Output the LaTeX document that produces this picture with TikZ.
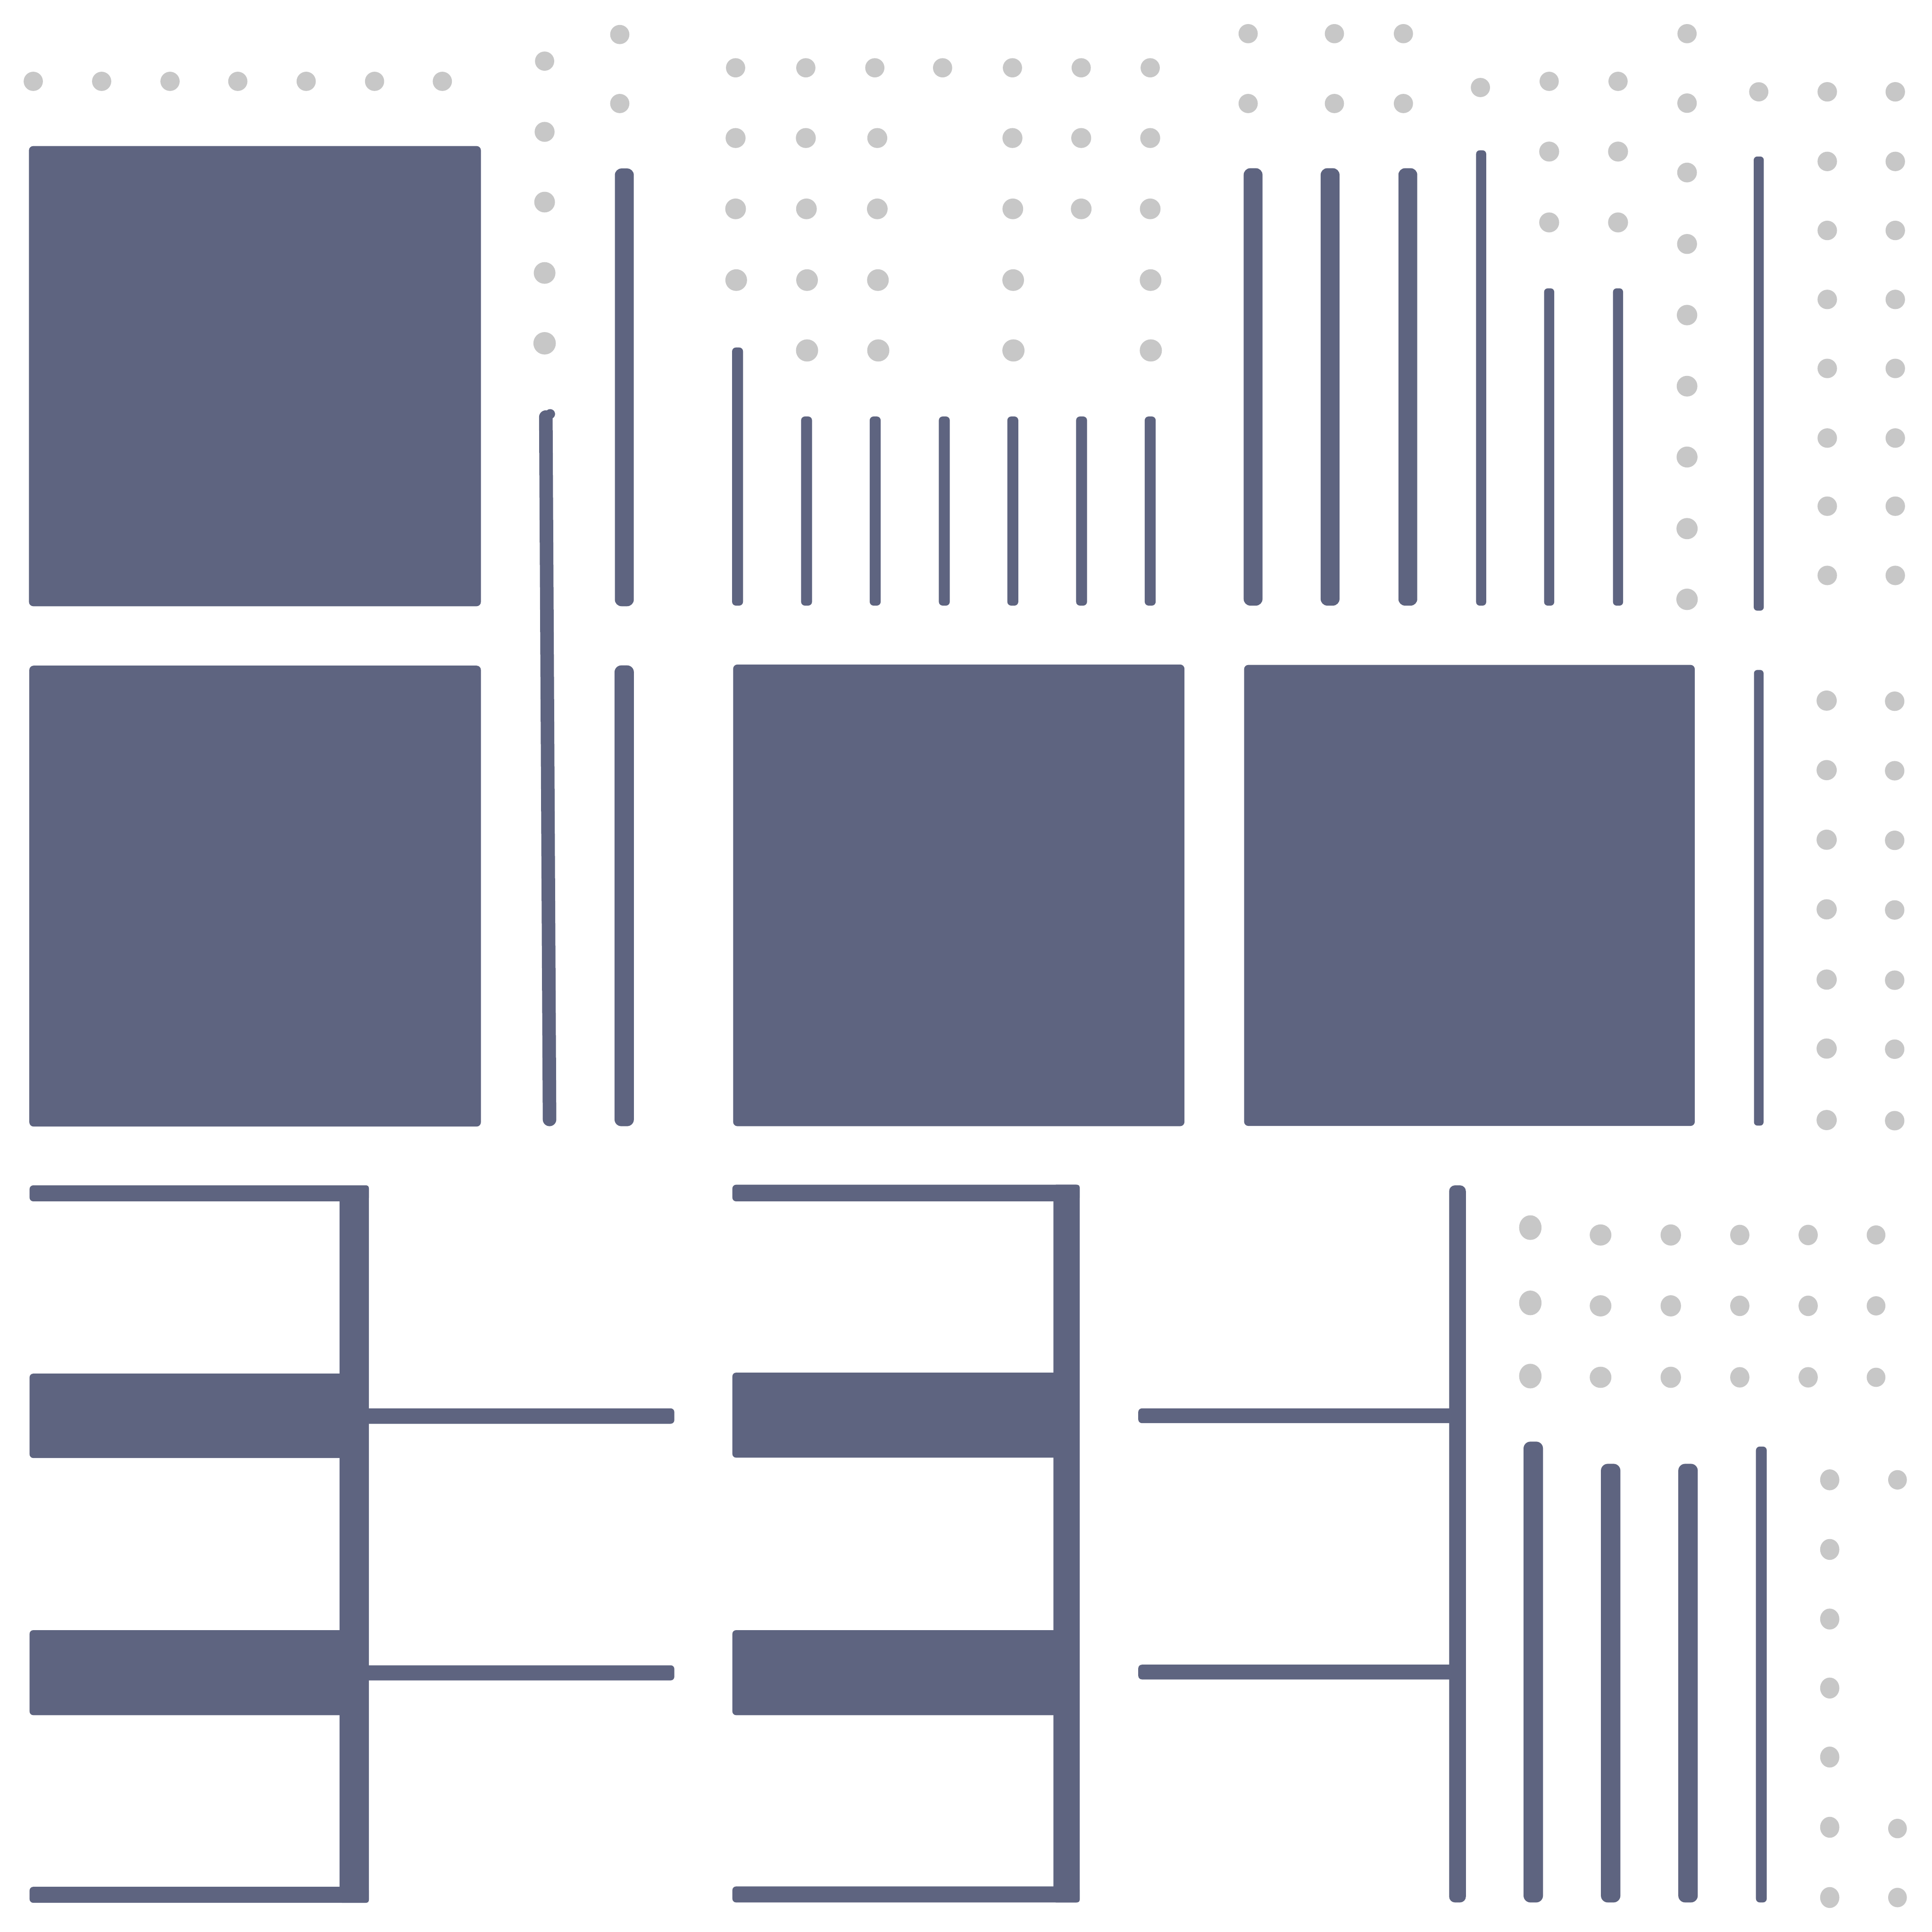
\documentclass[tikz,border=0pt]{standalone}
\definecolor{navy}{RGB}{94,100,128}
\definecolor{dotc}{RGB}{199,199,199}
\def\pxu{0.28453pt}
% vertical bar: centre x, width, top y, bottom y
\newcommand\vbarx[4]{\fill[navy, rounded corners=#2*0.1pt] ({#1-#2/2},#3) rectangle ({#1+#2/2},#4);}
% horizontal bar: left x, right x, top y, bottom y
\newcommand\hbarx[4]{\fill[navy, rounded corners=3*\pxu] (#1,#3) rectangle (#2,#4);}
\newcommand\sqbox[4]{\fill[navy, rounded corners=3.5*\pxu] (#1,#2) rectangle (#3,#4);}
\newcommand\dt[3]{\fill[dotc] (#1,#2) circle[radius=#3];}
\begin{document}
\begin{tikzpicture}[x=0.01cm,y=-0.01cm]
\useasboundingbox (0,0) rectangle (1568,1568);
\fill[white] (0,0) rectangle (1568,1568);

% ---------- top left ----------
\foreach \x in {27,82.5,138,193,248.5,304,359} {\dt{\x}{66}{7.8}}
\sqbox{23.5}{118.5}{390.3}{492}
\dt{442}{49.6}{7.8}
\dt{442}{107}{8.1}
\dt{442}{164}{8.4}
\dt{442}{221.5}{8.8}
\dt{442}{278.6}{9.1}
\dt{503}{28}{7.8}
\dt{503}{84}{7.8}
\vbarx{506.7}{15.4}{136.7}{492}

% ---------- top middle dot grid ----------
\foreach \x in {597,654,710,765,821.7,877.5,933.5} {\dt{\x}{55}{7.8}}
\foreach \x in {597,654,712,821.7,877.5,933.5} {\dt{\x}{112}{8.1}}
\foreach \x in {597,654.5,712,822,877.5,933.5} {\dt{\x}{169.5}{8.4}}
\foreach \x in {597.5,655,712.5,822.3,933.8} {\dt{\x}{227.3}{8.8}}
\foreach \x in {655,712.8,822.5,934} {\dt{\x}{284.4}{9.0}}
\vbarx{598.6}{8.9}{282}{491.5}
\foreach \x in {654.6,710.3,766.4,822,877.8,933.5} {\vbarx{\x}{8.9}{338}{491.5}}

% ---------- top right ----------
\foreach \x in {1013,1083,1139} {\dt{\x}{27.3}{7.8}\dt{\x}{84}{7.8}}
\foreach \x in {1017,1079.5,1142.6} {\vbarx{\x}{15.3}{136.5}{491.5}}
\dt{1201.5}{71}{7.8}
\vbarx{1202.1}{8.2}{122}{491.5}
\foreach \x in {1257.3,1313.2} {\dt{\x}{66}{7.8}\dt{\x}{123}{8.1}\dt{\x}{180.5}{8.1}\vbarx{\x}{8.2}{234}{491.5}}
\dt{1369.2}{27.3}{7.8}
\dt{1369.2}{83.7}{7.9}
\dt{1369.2}{140}{8.0}
\dt{1369.2}{198}{8.1}
\dt{1369.2}{255.7}{8.3}
\dt{1369.2}{313.4}{8.4}
\dt{1369.2}{370.9}{8.5}
\dt{1369.2}{429}{8.6}
\dt{1369.2}{486.4}{8.7}
\dt{1427.4}{74.5}{7.8}
\vbarx{1427.4}{8.2}{127}{495.6}
\foreach \y in {74.5,131,187,243,299,355.5,410.8,467} {\dt{1483}{\y}{7.9}\dt{1538.2}{\y}{7.9}}

% ---------- middle row ----------
\sqbox{23.8}{540.2}{390.3}{914.3}
\draw[navy, line width=11*\pxu, line cap=round] (443,338.5) -- (446,908.5);
\fill[navy] (446.5,336) circle[radius=4];
\vbarx{506.6}{15.7}{540}{914}
\sqbox{595}{539.3}{961.3}{914}
\sqbox{1009.7}{539.6}{1375.5}{913.8}
\vbarx{1427.4}{7.8}{543.7}{913.5}
\foreach \y in {568.6,625,681.5,738,795,851,909} {\dt{1482.5}{\y}{8.2}\dt{1537.7}{\y+0.5}{7.9}}

% ---------- bottom: first E ----------
\hbarx{24}{299.4}{962}{975}
\fill[navy, rounded corners=2*\pxu] (275.6,962) rectangle (299.4,1544.3);
\hbarx{24}{280}{1114.8}{1183.3}
\hbarx{24}{280}{1323}{1392}
\hbarx{24}{299.4}{1531.3}{1544.3}
\hbarx{295}{547.3}{1143}{1155.5}
\hbarx{295}{547.3}{1351.5}{1363.8}

% ---------- bottom: second E ----------
\hbarx{594.4}{876.3}{961.5}{975}
\fill[navy, rounded corners=2*\pxu] (855,961.5) rectangle (876.3,1544);
\hbarx{594.4}{858}{1114}{1183}
\hbarx{594.4}{858}{1323}{1392}
\hbarx{594.4}{876.3}{1531}{1544}

% ---------- bottom: T shape ----------
\vbarx{1182.9}{13.6}{962}{1544}
\hbarx{923.8}{1180}{1143}{1155}
\hbarx{923.8}{1180}{1351}{1363}

% ---------- bottom right lines ----------
\vbarx{1244.4}{15.8}{1170}{1544}
\vbarx{1307.2}{15.8}{1188}{1544}
\vbarx{1370}{15.8}{1188}{1544}
\vbarx{1429.5}{8.8}{1174}{1544}

% ---------- bottom right dots ----------
\fill[dotc] (1242,996.3) circle[x radius=9.1, y radius=10];
\fill[dotc] (1242,1057.4) circle[x radius=9.1, y radius=10];
\fill[dotc] (1242,1116.8) circle[x radius=9.1, y radius=10];
\foreach \x/\rx/\ry in {1299/8.8/8.6,1356/8.3/8.6,1412/7.8/8.3,1467.5/7.8/8.3,1522.6/7.6/7.8} {
  \fill[dotc] (\x,1002.3) circle[x radius=\rx, y radius=\ry];
  \fill[dotc] (\x,1059.8) circle[x radius=\rx, y radius=\ry];
  \fill[dotc] (\x,1117.8) circle[x radius=\rx, y radius=\ry];
}
\foreach \y in {1201,1257.5,1314,1370,1426,1483,1540} {\fill[dotc] (1485,\y) circle[x radius=7.8, y radius=8.5];}
\foreach \y in {1201,1484,1540} {\fill[dotc] (1540,\y) circle[x radius=7.6, y radius=7.9];}
\end{tikzpicture}
\end{document}
